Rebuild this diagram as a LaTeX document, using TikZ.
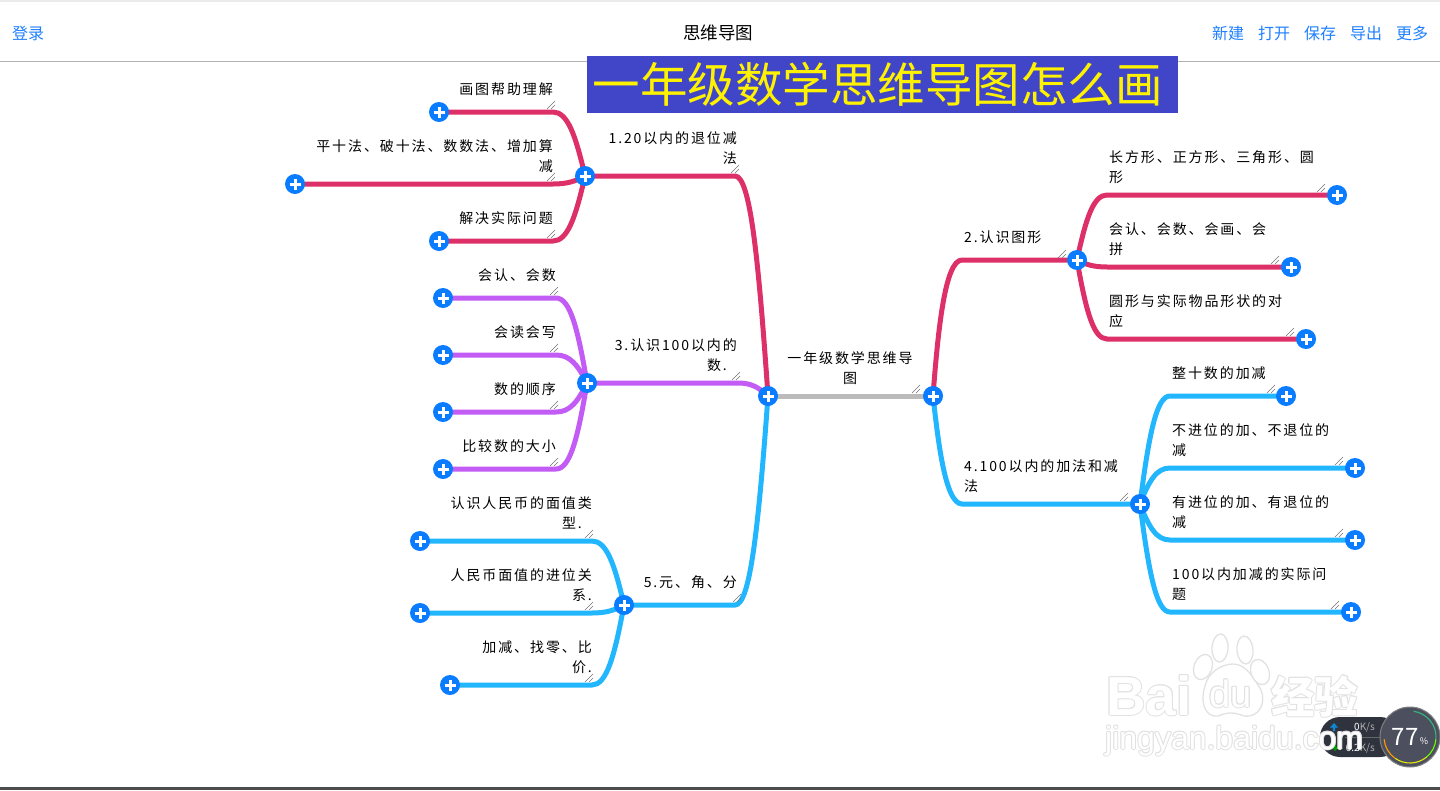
\documentclass[tikz,border=0pt]{standalone}
\usepackage{fontspec}
\setmainfont{Noto Sans CJK SC}
\newfontfamily\labfont[LetterSpace=13.5]{Noto Sans CJK SC}
\usetikzlibrary{calc,backgrounds}
\definecolor{crimline}{HTML}{DE3068}
\definecolor{violetline}{HTML}{C25CF5}
\definecolor{skyline}{HTML}{22B6FF}
\definecolor{rootline}{HTML}{BBBBBB}
\definecolor{btnblue}{HTML}{0A7CFF}
\definecolor{linkblue}{HTML}{1E80FF}
\definecolor{titlebar}{HTML}{4146C8}
\definecolor{markgray}{HTML}{E2E2E2}
\definecolor{pilldark}{HTML}{2F333E}
\definecolor{dialgray}{HTML}{4C505E}
\tikzset{
  x=1pt,y=-1pt,
  plusbtn/.style={circle,fill=btnblue,minimum size=20pt,inner sep=0pt,
    path picture={
      \draw[white,line width=3pt] ([xshift=-5.5pt]path picture bounding box.center) -- ([xshift=5.5pt]path picture bounding box.center);
      \draw[white,line width=3pt] ([yshift=-5.5pt]path picture bounding box.center) -- ([yshift=5.5pt]path picture bounding box.center);
    }},
  wire/.style={line width=5pt},
  lab/.style={inner sep=0pt,text depth=1.5pt,font=\labfont\fontsize{14}{20}\selectfont},
  labl/.style={lab,anchor=south east,align=right},
  labr/.style={lab,anchor=south west,align=left},
  menu/.style={inner sep=0pt,text=linkblue,font=\fontsize{16}{18}\selectfont},
  hatch/.style={draw=black!55,line width=.6pt},
}
% bend at x=#2 on the height of node #1, then into node #3
\newcommand{\branch}[4]{
  \coordinate (#1k) at (#2,0 |- #1);
  \draw[wire,draw=#4] (#1.center) -- (#1k) .. controls ($(#1k)!.45!(#1k-|#3)$) and ($(#3)!.5!(#3|-#1k)!.3!(#1k)$) .. (#3.center);
}
% white letters with a grey rim
\newcommand{\rimtext}[4]{
  \foreach \dx/\dy in {-1/0,1/0,0/-1,0/1,-.7/-.7,.7/-.7,-.7/.7,.7/.7}
    \node[text=markgray,font=#3,inner sep=0pt,anchor=base west] at (#1+\dx,#2+\dy) {#4};
  \node[text=white,font=#3,inner sep=0pt,anchor=base west] at (#1,#2) {#4};
}
\begin{document}
\begin{tikzpicture}
\useasboundingbox (0,0) rectangle (1440,790);
\begin{scope}[on background layer]
  \fill[white] (0,0) rectangle (1440,790);
\end{scope}

% top bar
\draw[black!8,line width=1.5pt] (0,1) -- (1440,1);
\draw[black!30,line width=1pt] (0,61.5) -- (1440,61.5);
\node[menu,anchor=west] (login) at (12,33) {登录};
\node[inner sep=0pt,font=\fontsize{17.5}{20}\selectfont] (apptitle) at (718,33) {思维导图};
\foreach \x/\t [count=\n] in {1228/新建,1274/打开,1320/保存,1366/导出,1412/更多}
  \node[menu] (tool\n) at (\x,33) {\t};
\node[fill=titlebar,text=yellow,minimum width=591pt,minimum height=57pt,inner sep=0pt,
  font=\fontsize{47.5}{50}\selectfont] (headline) at (882.5,84.5) {\hspace*{-10pt}一年级数学思维导图怎么画};

% hubs
\node[plusbtn] (rootl) at (768,396) {};
\node[plusbtn] (rootr) at (933,396) {};
\node[plusbtn] (hubone) at (585,176) {};
\node[plusbtn] (hubthree) at (587,383) {};
\node[plusbtn] (hubfive) at (624,605) {};
\node[plusbtn] (hubtwo) at (1077,260) {};
\node[plusbtn] (hubfour) at (1140,504) {};

\begin{scope}[on background layer]
  \draw[wire,draw=rootline] (rootl.center) -- (rootr.center);
  \branch{hubone}{735}{rootl}{crimline}
  \branch{hubthree}{738}{rootl}{violetline}
  \branch{hubfive}{735}{rootl}{skyline}
  \coordinate (hubtwok) at (962,260);
  \draw[wire,draw=crimline] (hubtwo.center) -- (hubtwok) .. controls (945,260) and (938,330) .. (rootr.center);
  \coordinate (hubfourk) at (962,504);
  \draw[wire,draw=skyline] (hubfour.center) -- (hubfourk) .. controls (945,504) and (938,440) .. (rootr.center);
\end{scope}

% leaves
\foreach \name/\x/\y/\bx/\hub/\col in {
  a1/439/112/553/hubone/crimline, a2/295/184/553/hubone/crimline, a3/439/241/553/hubone/crimline,
  c1/443/298/556/hubthree/violetline, c2/443/355/556/hubthree/violetline,
  c3/443/412/556/hubthree/violetline, c4/443/469/556/hubthree/violetline,
  e1/420/541/592/hubfive/skyline, e2/420/613/592/hubfive/skyline, e3/450/685/592/hubfive/skyline,
  b1/1337/195/1107/hubtwo/crimline, b2/1291/267/1107/hubtwo/crimline, b3/1306/339/1107/hubtwo/crimline,
  d1/1286/396/1170/hubfour/skyline, d2/1355/468/1170/hubfour/skyline,
  d3/1355/540/1170/hubfour/skyline, d4/1351/612/1170/hubfour/skyline}{
  \node[plusbtn] (\name) at (\x,\y) {};
  \begin{scope}[on background layer]
    \branch{\name}{\bx}{\hub}{\col}
  \end{scope}
}

% labels
\foreach \x/\y/\t [count=\n] in {
  553/96/{画图帮助理解},
  553/173/{平十法、破十法、数数法、增加算\\减},
  553/225/{解决实际问题},
  737/165/{1.20以内的退位减\\法},
  556/282/{会认、会数},
  556/339/{会读会写},
  556/396/{数的顺序},
  556/453/{比较数的大小},
  737/372/{3.认识100以内的\\数.\hspace*{10pt}},
  592/530/{认识人民币的面值类\\型.\hspace*{10pt}},
  592/602/{人民币面值的进位关\\系.},
  592/674/{加减、找零、比\\价.},
  737/589/{5.元、角、分}}
  \node[labl] (labl\n) at (\x,\y) {\t};
\foreach \x/\y/\t [count=\n] in {
  964/244/{2.认识图形},
  1109/184/{长方形、正方形、三角形、圆\\形},
  1109/256/{会认、会数、会画、会\\拼},
  1109/328/{圆形与实际物品形状的对\\应},
  964/493/{4.100以内的加法和减\\法},
  1172/380/{整十数的加减},
  1172/457/{不进位的加、不退位的\\减},
  1172/529/{有进位的加、有退位的\\减},
  1172/601/{100以内加减的实际问\\题}}
  \node[labr] (labr\n) at (\x,\y) {\t};
\node[lab,align=center,anchor=south] (labroot) at (850,385) {一年级数学思维导\\图};

% resize marks
\foreach \x/\y in {555/109,555/181,555/238,739/173,558/295,558/352,558/409,558/466,740/380,
  593/538,593/610,593/682,741/602,920/393,1066/258,1325/192,1279/264,1294/336,1128/501,
  1275/393,1343/465,1343/537,1339/609}{
  \draw[hatch] (\x-8,\y) -- (\x,\y-8);
  \draw[hatch] (\x-4,\y) -- (\x,\y-4);
}

% speed widget
\fill[pilldark,rounded corners=20pt] (1320,717) rectangle (1400,757);
\draw[black!60,line width=.5pt] (1345,737) -- (1385,737);
\node[circle,fill=dialgray,draw=black!50,line width=1pt,minimum size=60pt,inner sep=0pt] (dial) at (1410,737) {};
\foreach \a/\b/\c in {82/-5/{teal!70!green!80},-5/-50/{green!60!yellow},-50/-125/{yellow!90!green},-125/-175/{orange!80!yellow}}
  \draw[\c,line width=1.1pt] ($(dial)+(\a:26pt)$) arc[start angle=\a,end angle=\b,radius=26pt];
\node[text=white,inner sep=0pt,font=\fontsize{24}{26}\selectfont] (dialnum) at (1405,737) {77};
\node[text=white,inner sep=0pt,font=\fontsize{9}{10}\selectfont] (dialpct) at (1424,741) {\%};
\node[text=white,inner sep=0pt,anchor=east,font=\fontsize{10}{12}\selectfont] (upspeed) at (1375,727) {0\textcolor{white!70!black}{K/s}};
\node[text=white,inner sep=0pt,anchor=east,font=\fontsize{10}{12}\selectfont] (downspeed) at (1375,748) {0.2\textcolor{white!70!black}{K/s}};
\fill[cyan!70!blue] (1334,723) -- (1338,727.5) -- (1335.2,727.5) -- (1335.2,731) -- (1332.8,731) -- (1332.8,727.5) -- (1330,727.5) -- cycle;
\fill[green!60!black] (1335,751) -- (1331,747) -- (1333.8,747) -- (1333.8,744) -- (1336.2,744) -- (1336.2,747) -- (1339,747) -- cycle;

% watermark
\draw[markgray,line width=1.3pt,fill=white] (1205,686) .. controls (1208,672) and (1222,664) .. (1233,664)
  .. controls (1246,664) and (1254,678) .. (1261,690) .. controls (1266,702) and (1260,718) .. (1244,716)
  .. controls (1234,712) and (1228,712) .. (1218,716) .. controls (1204,718) and (1200,700) .. (1205,686) -- cycle;
\foreach \x/\y/\rx/\ry/\rot in {1203/667/9/13/-20,1220/648/8/14/-3,1245/650/8/14/5,1260/672/9/13/20}
  \draw[markgray,line width=1.3pt,fill=white,rotate around={\rot:(\x,\y)}] (\x,\y) ellipse[x radius=\rx pt,y radius=\ry pt];
\rimtext{1106}{715}{\fontspec{Liberation Sans}\bfseries\fontsize{55}{58}\selectfont}{Bai}
\rimtext{1209}{707}{\fontspec{Liberation Sans}\fontsize{38}{40}\selectfont}{du}
\rimtext{1271}{713}{\bfseries\fontsize{43.5}{46}\selectfont}{经验}
\rimtext{1105}{749}{\fontspec{Liberation Sans}\fontsize{32}{36}\selectfont}{jingyan.baidu.com}

% window edge
\fill[black!70] (0,787) rectangle (1440,790);
\end{tikzpicture}
\end{document}
